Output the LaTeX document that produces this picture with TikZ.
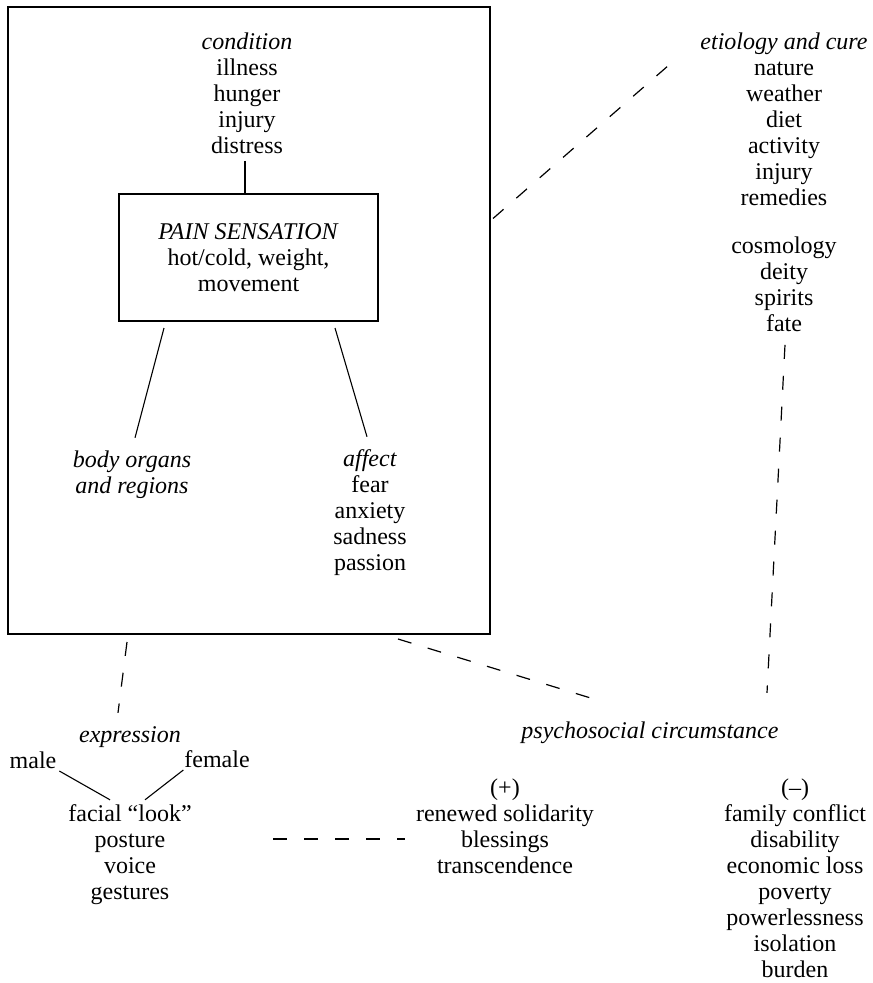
\documentclass[tikz,border=0pt]{standalone}
\usepackage{fontspec}
\setmainfont{Liberation Serif}
\newcommand\stk[1]{\begin{tabular}[t]{@{}c@{}}#1\end{tabular}}
\begin{document}
\begin{tikzpicture}[x=1pt,y=-1pt,
  txt/.style={font=\fontsize{24}{26}\selectfont, inner sep=0pt, outer sep=0pt, anchor=base},
  box/.style={draw, line width=1.5pt, inner sep=0pt, outer sep=0pt},
  solidcon/.style={line width=1.1pt},
  dashcon/.style={line width=1.2pt, dash pattern=on 14pt off 17pt},
]
\useasboundingbox (0,0) rectangle (873,983);
% boxes
\node[box, minimum width=482pt, minimum height=627pt] (frame) at (249,320.5) {};
\node[box, minimum width=259pt, minimum height=127pt, align=center,
      font=\fontsize{24}{26}\selectfont] (pain) at (248.5,257.5)
      {\textit{PAIN SENSATION}\\hot/cold, weight,\\movement};
% text blocks
\node[txt] (cond) at (247,49) {\stk{\textit{condition}\\illness\\hunger\\injury\\distress}};
\node[txt] (etio) at (784,49) {\stk{\textit{etiology and cure}\\nature\\weather\\diet\\activity\\injury\\remedies}};
\node[txt] (cosmo) at (784,253) {\stk{cosmology\\deity\\spirits\\fate}};
\node[txt] (body) at (132,467) {\stk{\textit{body organs}\\\textit{and regions}}};
\node[txt] (affect) at (370,466) {\stk{\textit{affect}\\fear\\anxiety\\sadness\\passion}};
\node[txt] (expr) at (130,742) {\stk{\textit{expression}}};
\node[txt] (male) at (33,768) {\stk{male}};
\node[txt] (female) at (217,767) {\stk{female}};
\node[txt] (facial) at (130,821) {\stk{facial “look”\\posture\\voice\\gestures}};
\node[txt] (psycho) at (650,738) {\stk{\textit{psychosocial circumstance}}};
\node[txt] (plus) at (505,795) {\stk{(+)\\renewed solidarity\\blessings\\transcendence}};
\node[txt] (minus) at (795,795) {\stk{(–)\\family conflict\\disability\\economic loss\\poverty\\powerlessness\\isolation\\burden}};
% free ends
\coordinate (etioend) at (669,65);
\coordinate (h1) at (273,839);
\coordinate (h2) at (405,839);
% solid connectors
\draw[solidcon] ([xshift=-2pt]cond.south) -- ([xshift=-3.5pt]pain.north);
\draw[solidcon] ([xshift=45pt,yshift=-7pt]pain.south west) -- ([xshift=3pt,yshift=11pt]body.north);
\draw[solidcon] ([xshift=-43pt,yshift=-7pt]pain.south east) -- ([xshift=-3pt,yshift=11pt]affect.north);
\draw[solidcon] ([xshift=3pt,yshift=-3pt]male.base east) -- ([xshift=-20pt,yshift=3pt]facial.north);
\draw[solidcon] ([xshift=-1pt,yshift=-3pt]female.base west) -- ([xshift=15pt,yshift=3pt]facial.north);
% dashed connectors
\draw[dashcon] ([xshift=3pt,yshift=102pt]frame.east) -- (etioend);
\draw[dashcon] ([xshift=-122pt,yshift=-8pt]frame.south) -- ([xshift=-12pt,yshift=11pt]expr.north);
\draw[dashcon] ([xshift=-92pt,yshift=-5pt]frame.south east) -- ([xshift=-60pt,yshift=22pt]psycho.north);
\draw[dashcon] ([xshift=1pt,yshift=-6pt]cosmo.south) -- ([xshift=117pt,yshift=27pt]psycho.north);
\draw[dashcon] (h1) -- (h2);
\end{tikzpicture}
\end{document}
